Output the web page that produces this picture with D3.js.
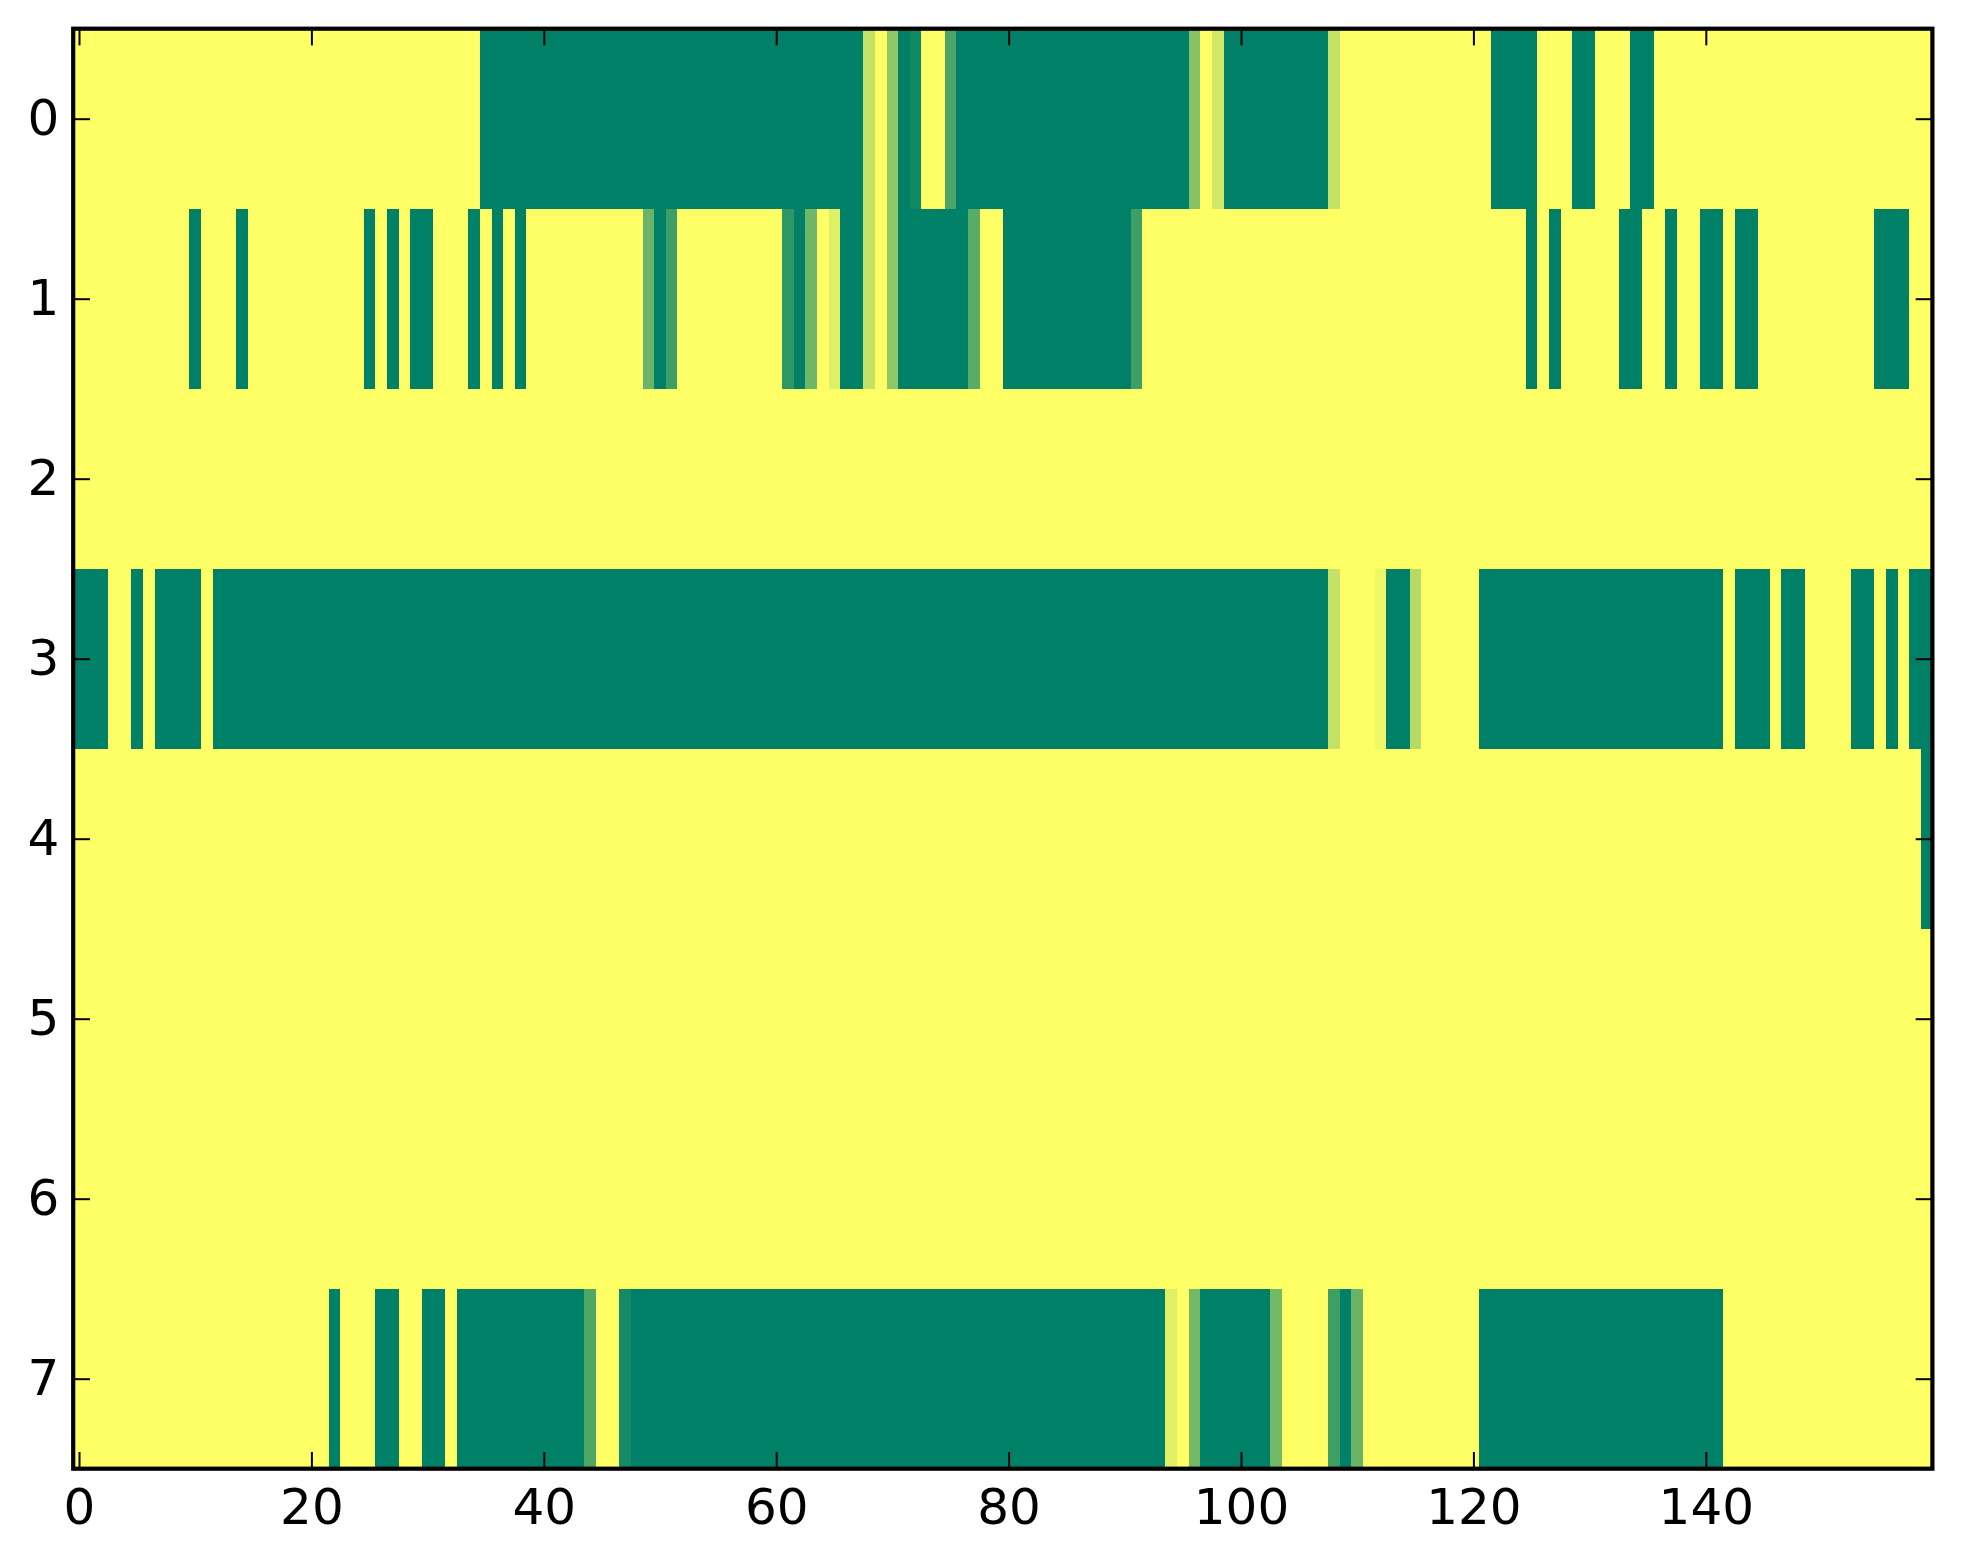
<!DOCTYPE html>
<html>
<head>
<meta charset="utf-8">
<script src="https://cdn.jsdelivr.net/npm/d3@7/dist/d3.min.js"></script>
<style>
  html, body { margin: 0; padding: 0; background: #ffffff; }
  svg { display: block; }
  text { font-family: "DejaVu Sans", sans-serif; }
</style>
</head>
<body>
<svg id="chart" width="1963" height="1564"></svg>
<script>
// ---- Data (values 0..1 per cell, 8 rows x 160 columns) ----
const rowLabels = [0, 1, 2, 3, 4, 5, 6, 7];
const xTickValues = [0, 20, 40, 60, 80, 100, 120, 140];

const row0 = [
  1,1,1,1,1,1,1,1,1,1,
  1,1,1,1,1,1,1,1,1,1,
  1,1,1,1,1,1,1,1,1,1,
  1,1,1,1,1,0,0,0,0,0,
  0,0,0,0,0,0,0,0,0,0,
  0,0,0,0,0,0,0,0,0,0,
  0,0,0,0,0,0,0,0,0.77,1,
  0.56,0,0.06,1,1,0.29,0,0,0,0,
  0,0,0,0,0,0,0,0,0,0,
  0,0,0,0,0,0,0.53,1,0.82,0,
  0,0,0,0,0,0,0,0,0.77,1,
  1,1,1,1,1,1,1,1,1,1,
  1,1,0,0,0,0,1,1,1,0,
  0,1,1,1,0,0,1,1,1,1,
  1,1,1,1,1,1,1,1,1,1,
  1,1,1,1,1,1,1,1,1,1
];
const row1 = [
  1,1,1,1,1,1,1,1,1,1,
  0,1,1,1,0,1,1,1,1,1,
  1,1,1,1,1,0,1,0,1,0,
  0,1,1,1,0,1,0,1,0,1,
  1,1,1,1,1,1,1,1,1,0.41,
  0,0.24,1,1,1,1,1,1,1,1,
  1,0.18,0,0.43,1,0.88,0,0,0.77,1,
  0.56,0,0,0,0,0,0,0.35,1,1,
  0,0,0,0,0,0,0,0,0,0,
  0,0.24,1,1,1,1,1,1,1,1,
  1,1,1,1,1,1,1,1,1,1,
  1,1,1,1,1,1,1,1,1,1,
  1,1,1,1,1,0,1,0,1,1,
  1,1,1,0,0,1,1,0,1,1,
  0,0,1,0,0,1,1,1,1,1,
  1,1,1,1,1,0,0,0,1,1
];
const row2 = [
  1,1,1,1,1,1,1,1,1,1, 1,1,1,1,1,1,1,1,1,1,
  1,1,1,1,1,1,1,1,1,1, 1,1,1,1,1,1,1,1,1,1,
  1,1,1,1,1,1,1,1,1,1, 1,1,1,1,1,1,1,1,1,1,
  1,1,1,1,1,1,1,1,1,1, 1,1,1,1,1,1,1,1,1,1,
  1,1,1,1,1,1,1,1,1,1, 1,1,1,1,1,1,1,1,1,1,
  1,1,1,1,1,1,1,1,1,1, 1,1,1,1,1,1,1,1,1,1,
  1,1,1,1,1,1,1,1,1,1, 1,1,1,1,1,1,1,1,1,1,
  1,1,1,1,1,1,1,1,1,1, 1,1,1,1,1,1,1,1,1,1
];
const row3 = [
  0,0,0,1,1,0,1,0,0,0,
  0,1,0,0,0,0,0,0,0,0,
  0,0,0,0,0,0,0,0,0,0,
  0,0,0,0,0,0,0,0,0,0,
  0,0,0,0,0,0,0,0,0,0,
  0,0,0,0,0,0,0,0,0,0,
  0,0,0,0,0,0,0,0,0,0,
  0,0,0,0,0,0,0,0,0,0,
  0,0,0,0,0,0,0,0,0,0,
  0,0,0,0,0,0,0,0,0,0,
  0,0,0,0,0,0,0,0,0.77,1,
  1,1,0.94,0,0,0.71,1,1,1,1,
  1,0,0,0,0,0,0,0,0,0,
  0,0,0,0,0,0,0,0,0,0,
  0,0,1,0,0,0,1,0,0,1,
  1,1,1,0,0,1,0,1,0,0
];
const row4 = [
  1,1,1,1,1,1,1,1,1,1, 1,1,1,1,1,1,1,1,1,1,
  1,1,1,1,1,1,1,1,1,1, 1,1,1,1,1,1,1,1,1,1,
  1,1,1,1,1,1,1,1,1,1, 1,1,1,1,1,1,1,1,1,1,
  1,1,1,1,1,1,1,1,1,1, 1,1,1,1,1,1,1,1,1,1,
  1,1,1,1,1,1,1,1,1,1, 1,1,1,1,1,1,1,1,1,1,
  1,1,1,1,1,1,1,1,1,1, 1,1,1,1,1,1,1,1,1,1,
  1,1,1,1,1,1,1,1,1,1, 1,1,1,1,1,1,1,1,1,1,
  1,1,1,1,1,1,1,1,1,1, 1,1,1,1,1,1,1,1,1,0
];
const row5 = [
  1,1,1,1,1,1,1,1,1,1, 1,1,1,1,1,1,1,1,1,1,
  1,1,1,1,1,1,1,1,1,1, 1,1,1,1,1,1,1,1,1,1,
  1,1,1,1,1,1,1,1,1,1, 1,1,1,1,1,1,1,1,1,1,
  1,1,1,1,1,1,1,1,1,1, 1,1,1,1,1,1,1,1,1,1,
  1,1,1,1,1,1,1,1,1,1, 1,1,1,1,1,1,1,1,1,1,
  1,1,1,1,1,1,1,1,1,1, 1,1,1,1,1,1,1,1,1,1,
  1,1,1,1,1,1,1,1,1,1, 1,1,1,1,1,1,1,1,1,1,
  1,1,1,1,1,1,1,1,1,1, 1,1,1,1,1,1,1,1,1,1
];
const row6 = [
  1,1,1,1,1,1,1,1,1,1, 1,1,1,1,1,1,1,1,1,1,
  1,1,1,1,1,1,1,1,1,1, 1,1,1,1,1,1,1,1,1,1,
  1,1,1,1,1,1,1,1,1,1, 1,1,1,1,1,1,1,1,1,1,
  1,1,1,1,1,1,1,1,1,1, 1,1,1,1,1,1,1,1,1,1,
  1,1,1,1,1,1,1,1,1,1, 1,1,1,1,1,1,1,1,1,1,
  1,1,1,1,1,1,1,1,1,1, 1,1,1,1,1,1,1,1,1,1,
  1,1,1,1,1,1,1,1,1,1, 1,1,1,1,1,1,1,1,1,1,
  1,1,1,1,1,1,1,1,1,1, 1,1,1,1,1,1,1,1,1,1
];
const row7 = [
  1,1,1,1,1,1,1,1,1,1,
  1,1,1,1,1,1,1,1,1,1,
  1,1,0,1,1,1,0,0,1,1,
  0,0,1,0,0,0,0,0,0,0,
  0,0,0,0,0.31,1,1,0.08,0,0,
  0,0,0,0,0,0,0,0,0,0,
  0,0,0,0,0,0,0,0,0,0,
  0,0,0,0,0,0,0,0,0,0,
  0,0,0,0,0,0,0,0,0,0,
  0,0,0,0,0.88,1,0.45,0,0,0,
  0,0,0,0.45,1,1,1,1,0.24,0,
  0.41,1,1,1,1,1,1,1,1,1,
  1,0,0,0,0,0,0,0,0,0,
  0,0,0,0,0,0,0,0,0,0,
  0,0,1,1,1,1,1,1,1,1,
  1,1,1,1,1,1,1,1,1,1
];
const rows = [row0, row1, row2, row3, row4, row5, row6, row7];

// ---- Layout ----
const plot = { left: 73.2, top: 28.7, right: 1932.4, bottom: 1468.7 };
const nCols = row0.length;
const nRows = rows.length;

const svg = d3.select("#chart");

const x = d3.scaleLinear().domain([-0.5, nCols - 0.5]).range([plot.left, plot.right]);
const y = d3.scaleLinear().domain([-0.5, nRows - 0.5]).range([plot.top, plot.bottom]);
// matplotlib "summer" colormap: linear from (0,0.5,0.4) to (1,1,0.4)
const color = d3.scaleLinear().domain([0, 1]).range(["rgb(0,128,102)", "rgb(255,255,102)"]).interpolate(d3.interpolateRgb);

const cells = [];
rows.forEach((r, ri) => r.forEach((v, ci) => cells.push({ r: ri, c: ci, v })));

svg.append("g")
  .attr("shape-rendering", "crispEdges")
  .selectAll("rect")
  .data(cells)
  .join("rect")
  .attr("x", d => x(d.c - 0.5))
  .attr("y", d => y(d.r - 0.5))
  .attr("width", d => x(d.c + 0.5) - x(d.c - 0.5) + 0.6)
  .attr("height", d => y(d.r + 0.5) - y(d.r - 0.5) + 0.6)
  .attr("fill", d => color(d.v));

const tickLen = 16.7;
const fontSize = 50;

function styleAxis(g, showLabels) {
  g.select(".domain").remove();
  g.selectAll(".tick line").attr("stroke", "#000").attr("stroke-width", 2);
  g.selectAll(".tick text")
    .attr("font-size", fontSize)
    .attr("fill", "#000")
    .style("display", showLabels ? null : "none");
}

// bottom axis
svg.append("g")
  .attr("transform", `translate(0,${plot.bottom})`)
  .call(d3.axisBottom(x).tickValues(xTickValues).tickFormat(d3.format("d"))
    .tickSizeInner(-tickLen).tickSizeOuter(0).tickPadding(20))
  .call(g => styleAxis(g, true));
// top axis (ticks only)
svg.append("g")
  .attr("transform", `translate(0,${plot.top})`)
  .call(d3.axisTop(x).tickValues(xTickValues).tickSizeInner(-tickLen).tickSizeOuter(0))
  .call(g => styleAxis(g, false));
// left axis
svg.append("g")
  .attr("transform", `translate(${plot.left},0)`)
  .call(d3.axisLeft(y).tickValues(rowLabels).tickFormat(d3.format("d"))
    .tickSizeInner(-tickLen).tickSizeOuter(0).tickPadding(14))
  .call(g => styleAxis(g, true));
// right axis (ticks only)
svg.append("g")
  .attr("transform", `translate(${plot.right},0)`)
  .call(d3.axisRight(y).tickValues(rowLabels).tickSizeInner(-tickLen).tickSizeOuter(0))
  .call(g => styleAxis(g, false));

// spines
svg.append("rect")
  .attr("x", plot.left).attr("y", plot.top)
  .attr("width", plot.right - plot.left).attr("height", plot.bottom - plot.top)
  .attr("fill", "none").attr("stroke", "#000").attr("stroke-width", 4.2);
</script>
</body>
</html>
